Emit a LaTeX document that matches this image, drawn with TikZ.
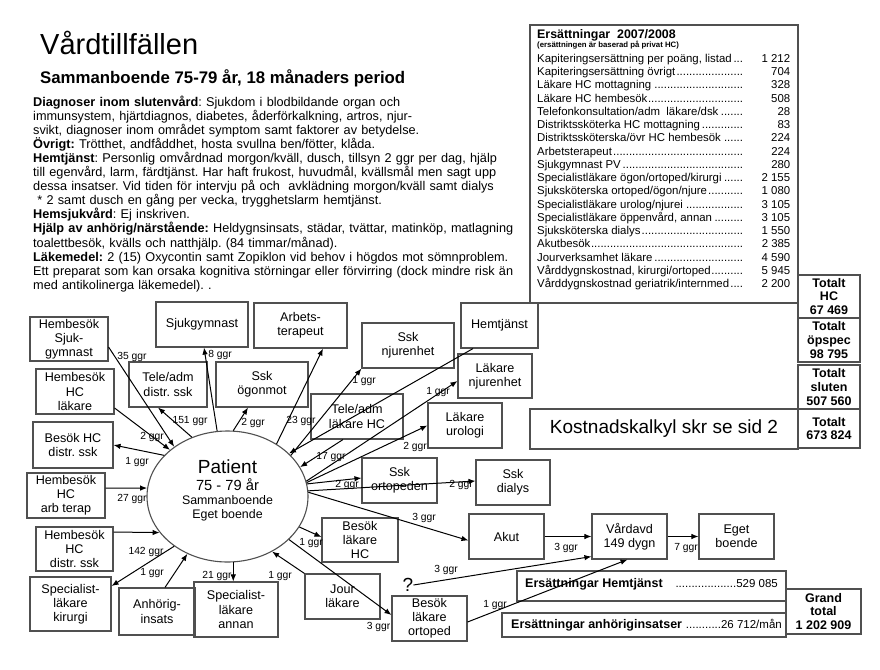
\documentclass[tikz,border=0pt]{standalone}
\usepackage{fontspec}
\setmainfont{Liberation Sans}
\usetikzlibrary{arrows.meta,calc,shapes.geometric}
\definecolor{boxgray}{RGB}{80,80,80}
\frenchspacing
\newcommand\mkbox[7][box]{\node[#1, minimum width={#5-#3}, minimum height={#6-#4}] (#2) at ({(#3+#5)/2},{(#4+#6)/2}) {#7};}
\newcommand\erow[2]{\hbox to 253pt{\hbox to 209pt{#1\leaders\hbox{.}\hfill}\hfill #2}}
\tikzset{
  box/.style={draw=boxgray, line width=1.1pt, rectangle, inner sep=1pt, align=center, font=\fontsize{12.6}{14.2}\selectfont},
  tbox/.style={draw=boxgray, line width=1.1pt, rectangle, inner sep=0pt, align=center, font=\bfseries\fontsize{12.5}{13.6}\selectfont},
  bigbox/.style={draw=boxgray, line width=1.1pt, rectangle, inner sep=0pt, align=center, font=\fontsize{19}{20}\selectfont},
  conn/.style={line width=1pt, -{Latex[length=7pt,width=5.5pt]}},
  lbl/.style={font=\fontsize{10.3}{12}\selectfont, inner sep=0pt},
  txt/.style={inner sep=0pt, anchor=base west},
}
\begin{document}
\begin{tikzpicture}[x=1pt,y=-1pt]
\fill[white] (0,0) rectangle (880,669);
\useasboundingbox (0,0) rectangle (880,669);

% ---- title and description
\node[txt, font=\fontsize{29}{30}\selectfont] (title) at (40,55) {Vårdtillfällen};
\node[txt, font=\bfseries\fontsize{16.8}{18}\selectfont] (subtitle) at (40,83) {Sammanboende 75-79 år, 18 månaders period};
\node[txt, text width=540pt, align=left, font=\fontsize{12.7}{14.1}\selectfont] (desc) at (33,106) {%
\textbf{Diagnoser inom slutenvård}: Sjukdom i blodbildande organ och\\
immunsystem, hjärtdiagnos, diabetes, åderförkalkning, artros, njur-\\
svikt, diagnoser inom området symptom samt faktorer av betydelse.\\
\textbf{Övrigt:} Trötthet, andfåddhet, hosta svullna ben/fötter, klåda.\\
\textbf{Hemtjänst}: Personlig omvårdnad morgon/kväll, dusch, tillsyn 2 ggr per dag, hjälp\\
till egenvård, larm, färdtjänst. Har haft frukost, huvudmål, kvällsmål men sagt upp\\
dessa insatser. Vid tiden för intervju på och\ \ avklädning morgon/kväll samt dialys\\
\ * 2 samt dusch en gång per vecka, trygghetslarm hemtjänst.\\
\textbf{Hemsjukvård}: Ej inskriven.\\
\textbf{Hjälp av anhörig/närstående:} Heldygnsinsats, städar, tvättar, matinköp, matlagning\\
toalettbesök, kvälls och natthjälp. (84 timmar/månad).\\
\textbf{Läkemedel:} 2 (15) Oxycontin samt Zopiklon vid behov i högdos mot sömnproblem.\\
Ett preparat som kan orsaka kognitiva störningar eller förvirring (dock mindre risk än\\
med antikolinerga läkemedel). .};

% ---- cost table
\mkbox[tbox]{tab}{530}{25}{798}{303}{}
\node[txt, font=\bfseries\fontsize{12.4}{14}\selectfont] (etitle) at (537,38.5) {Ersättningar\ \ 2007/2008};
\node[txt, font=\bfseries\fontsize{7.8}{9}\selectfont] (esub) at (537,48) {(ersättningen är baserad på privat HC)};
\node[txt, font=\fontsize{11.4}{13.25}\selectfont] (rows) at (537,62.3) {\vtop{\baselineskip=13.25pt
\erow{Kapiteringsersättning per poäng, listad}{1 212}
\erow{Kapiteringsersättning övrigt}{704}
\erow{Läkare HC mottagning}{328}
\erow{Läkare HC hembesök}{508}
\erow{Telefonkonsultation/adm\ \ läkare/dsk}{28}
\erow{Distriktssköterka HC mottagning}{83}
\erow{Distriktssköterska/övr HC hembesök}{224}
\erow{Arbetsterapeut}{224}
\erow{Sjukgymnast PV}{280}
\erow{Specialistläkare ögon/ortoped/kirurgi}{2 155}
\erow{Sjuksköterska ortoped/ögon/njure}{1 080}
\erow{Specialistläkare urolog/njurei}{3 105}
\erow{Specialistläkare öppenvård, annan}{3 105}
\erow{Sjuksköterska dialys}{1 550}
\erow{Akutbesök}{2 385}
\erow{Jourverksamhet läkare}{4 590}
\erow{Vårddygnskostnad, kirurgi/ortoped}{5 945}
\erow{Vårddygnskostnad geriatrik/internmed}{2 200}}};

\mkbox[tbox]{thc}{798}{275}{860}{318}{Totalt\\HC\\67 469}
\mkbox[tbox]{tops}{798}{318}{860}{362}{Totalt\\öpspec\\98 795}
\mkbox[tbox]{tslu}{798}{365}{860}{409}{Totalt\\sluten\\507 560}
\mkbox[tbox]{ttot}{798}{409}{860}{448}{Totalt\\673 824}
\mkbox[bigbox]{kost}{530}{409}{798}{449}{Kostnadskalkyl skr se sid 2}

\mkbox[tbox]{eh}{517}{571}{786}{601}{}
\mkbox[tbox]{ea}{502}{613}{786}{637}{}
\mkbox[tbox]{grand}{786}{589}{861}{634}{Grand\\total\\1 202 909}
\node[txt, font=\bfseries\fontsize{12.5}{14}\selectfont] (ehT) at (525,587) {Ersättningar Hemtjänst};
\node[inner sep=0pt, anchor=base east, font=\fontsize{11.5}{14}\selectfont] (ehV) at (778,587) {...................529 085};
\node[txt, font=\bfseries\fontsize{12.5}{14}\selectfont] (eaT) at (511,628) {Ersättningar anhöriginsatser};
\node[inner sep=0pt, anchor=base east, font=\fontsize{11.5}{14}\selectfont] (eaV) at (782,628) {...........26 712/mån};

% ---- patient
\node[draw=boxgray, line width=1.1pt, ellipse, minimum width=161pt, minimum height=131pt, inner sep=0pt] (pat) at (227.5,496.5) {};
\node[inner sep=0pt, anchor=base, font=\fontsize{19}{20}\selectfont] (ptA) at (227.5,473) {Patient};
\node[inner sep=0pt, anchor=base, font=\fontsize{14.7}{15}\selectfont] (ptB) at (227.5,490) {75 - 79 år};
\node[inner sep=0pt, anchor=base, font=\fontsize{12.4}{13}\selectfont] (ptC) at (227.5,504) {Sammanboende};
\node[inner sep=0pt, anchor=base, font=\fontsize{12.4}{13}\selectfont] (ptD) at (227.5,518) {Eget boende};

% ---- boxes
\mkbox{hsg}{30}{317}{108}{361}{Hembesök\\Sjuk-\\gymnast}
\mkbox{sjg}{156}{302}{248}{347}{Sjukgymnast}
\mkbox{arb}{254}{303}{347}{348}{Arbets-\\terapeut}
\mkbox{tds}{129}{362}{207}{407}{Tele/adm\\distr. ssk}
\mkbox{sog}{216}{362}{308}{407}{Ssk\\ögonmot}
\mkbox{hhl}{36}{369}{114}{414}{Hembesök\\HC\\läkare}
\mkbox{bhd}{33}{422}{113}{468}{Besök HC\\distr. ssk}
\mkbox{hha}{27}{473}{105}{518}{Hembesök\\HC\\arb terap}
\mkbox{hhd}{36}{527}{113}{571}{Hembesök\\HC\\distr. ssk}
\mkbox{slk}{30}{577}{111}{631}{Specialist-\\läkare\\kirurgi}
\mkbox{anh}{119}{588}{195}{635}{Anhörig-\\insats}
\mkbox{sla}{194}{582}{278}{637}{Specialist-\\läkare\\annan}
\mkbox{jour}{305}{574}{380}{619}{Jour\\läkare}
\mkbox{blo}{392}{596}{467}{641}{Besök\\läkare\\ortoped}
\mkbox{blh}{322}{518}{398}{562}{Besök\\läkare\\HC}
\mkbox{sor}{362}{458}{437}{503}{Ssk\\ortopeden}
\mkbox{sdi}{476}{460}{550}{505}{Ssk\\dialys}
\mkbox{akut}{469}{514}{544}{559}{Akut}
\mkbox{vard}{592}{514}{667}{559}{Vårdavd\\149 dygn}
\mkbox{eget}{699}{514}{774}{559}{Eget\\boende}
\mkbox{snj}{362}{323}{454}{368}{Ssk\\njurenhet}
\mkbox{hemt}{461}{303}{538}{348}{Hemtjänst}
\mkbox{lnj}{458}{354}{532}{398}{Läkare\\njurenhet}
\mkbox{tlh}{311}{394}{403}{439}{Tele/adm\\läkare HC}
\mkbox{luro}{428}{403}{502}{448}{Läkare\\urologi}
\node[inner sep=0pt, font=\fontsize{19}{20}\selectfont] (q) at (408,585) {?};

% ---- connectors
\draw[conn] ($(hsg.east)+(0,8)$) -- (pat.137);
\draw[conn] ($(hhl.east)+(0,16.5)$) -- (pat.141);
\draw[conn] (pat.121) -- ($(tds.south)+(-10,0)$);
\draw[conn] (pat.147) -- (bhd.east);
\draw[conn] (pat.99) -- ($(sjg.south)+(2,0)$);
\draw[conn] (pat.85) -- ($(sog.south)+(-14,0)$);
\draw[conn] (pat.47) -- ($(arb.south)+(22.5,0)$);
\draw[conn] ($(hemt.south)+(-26.5,0)$) -- (pat.35);
\draw[conn] (pat.33) -- (snj.south west);
\draw[conn] ($(tlh.south)+(-14,0)$) -- (pat.22);
\draw[conn] (pat.11) -- ($(lnj.west)+(0,5)$);
\draw[conn] (pat.10) -- (luro.west);
\draw[conn] (pat.9) -- ($(sor.west)+(0,-2.5)$);
\draw[conn] (pat.4) -- ($(sdi.west)+(0,-1.5)$);
\draw[conn] (pat.3) -- ($(akut.west)+(0,4)$);
\draw[conn] (pat.-23) -- ($(blh.west)+(0,-3)$);
\draw[conn] (pat.-35) -- ($(blo.west)+(0,-3.5)$);
\draw[conn] (jour.north west) -- (pat.-51);
\draw[conn] (pat.-85) -- (pat.-85 |- sla.north);
\draw[conn] ($(anh.north)+(8,0)$) -- (pat.-125);
\draw[conn] (pat.-137) -- ($(slk.east)+(0,-18)$);
\draw[conn] ($(hhd.east)+(0,-17)$) -- (pat.-152.3);
\draw[conn] ($(hha.east)+(0,-7.5)$) -- (pat.174.6);
\draw[conn] (akut.east) -- (vard.west);
\draw[conn] (q.east) -- ($(vard.south west)+(0,-3)$);
\draw[conn] ($(blo.east)+(0,3.5)$) -- ($(vard.south)+(-2,0)$);
\draw[conn] (vard.east) -- (eget.west);

% ---- labels
\node[lbl] (l1) at (132,357) {35 ggr};
\node[lbl] (l2) at (152,437) {2 ggr};
\node[lbl] (l3) at (190,421) {151 ggr};
\node[lbl] (l4) at (137,462) {1 ggr};
\node[lbl] (l5) at (220,355) {8 ggr};
\node[lbl] (l6) at (253,423) {2 ggr};
\node[lbl] (l7) at (301,421) {23 ggr};
\node[lbl] (l8) at (364,381) {1 ggr};
\node[lbl] (l9) at (331,457) {17 ggr};
\node[lbl] (l10) at (438,392) {1 ggr};
\node[lbl] (l11) at (415,447) {2 ggr};
\node[lbl] (l12) at (347,485) {2 ggr};
\node[lbl] (l13) at (461,485) {2 ggr};
\node[lbl] (l14) at (424,518) {3 ggr};
\node[lbl] (l15) at (311,543) {1 ggr};
\node[lbl] (l16) at (378.5,627) {3 ggr};
\node[lbl] (l17) at (280,576) {1 ggr};
\node[lbl] (l18) at (217,576) {21 ggr};
\node[lbl] (l19) at (152,573) {1 ggr};
\node[lbl] (l20) at (146,552) {142 ggr};
\node[lbl] (l21) at (132,499) {27 ggr};
\node[lbl] (l22) at (566,548) {3 ggr};
\node[lbl] (l23) at (446,570) {3 ggr};
\node[lbl] (l24) at (495,605) {1 ggr};
\node[lbl] (l25) at (686,548) {7 ggr};
\end{tikzpicture}
\end{document}
